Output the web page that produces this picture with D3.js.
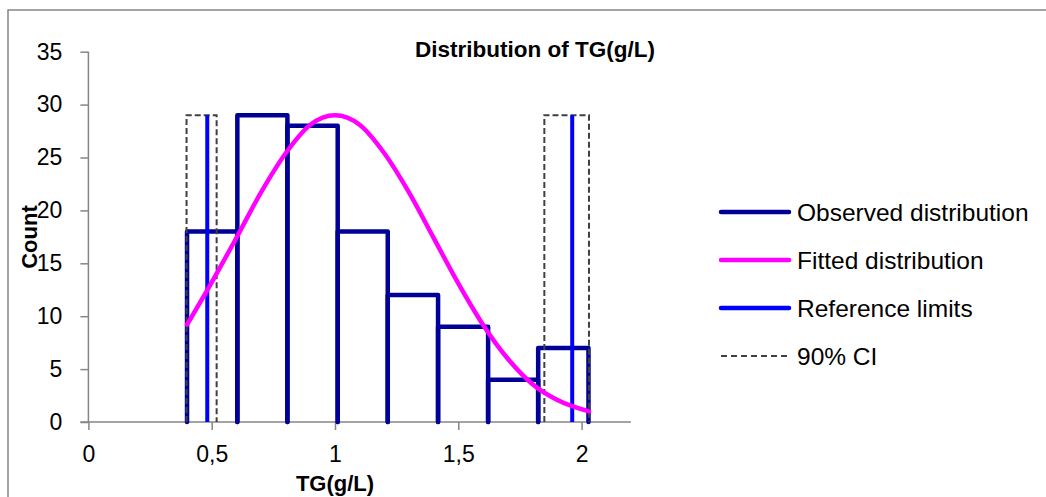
<!DOCTYPE html>
<html>
<head>
<meta charset="utf-8">
<script src="https://cdn.jsdelivr.net/npm/d3@7"></script>
<style>
  html, body { margin: 0; padding: 0; background: #fff; }
  svg { display: block; font-family: "Liberation Sans", Arial, sans-serif; }
</style>
</head>
<body>
<svg id="chart" width="1046" height="497"></svg>
<script>
// ---- data ----
const binEdges = [0.40, 0.604, 0.807, 1.011, 1.214, 1.418, 1.621, 1.824, 2.028];
const binCounts = [18, 29, 28, 18, 12, 9, 4, 7];
const fitX = [0.40, 0.50, 0.60, 0.70, 0.80, 0.90, 1.00, 1.10, 1.20, 1.30, 1.40, 1.50, 1.60, 1.70, 1.80, 1.90, 2.03];
const fitY = [9.2, 13.2, 17.4, 21.7, 25.4, 28.1, 29.0, 28.1, 25.4, 21.7, 17.4, 13.1, 9.2, 6.0, 3.6, 2.1, 1.0];
const refLimits = [0.482, 1.962];
const refHeight = 29;
const ciLow = [0.398, 0.520];
const ciHigh = [1.849, 2.030];
const xTicks = [0, 0.5, 1, 1.5, 2];
const xTickLabels = ["0", "0,5", "1", "1,5", "2"];
const yTicks = [0, 5, 10, 15, 20, 25, 30, 35];
const legendItems = ["Observed distribution", "Fitted distribution", "Reference limits", "90% CI"];
const title = "Distribution of TG(g/L)";
const xTitle = "TG(g/L)";
const yTitle = "Count";

// ---- styles ----
const cObs = "#000096", cFit = "#FF00FF", cRef = "#0000FF", cCI = "#404040", cAxis = "#868686";

const svg = d3.select("#chart");
const x = d3.scaleLinear().domain([0, 2.2]).range([88.4, 630.9]);
const y = d3.scaleLinear().domain([0, 35]).range([422, 51.7]);

// outer border
svg.append("rect").attr("x", 8).attr("y", 10).attr("width", 1100).attr("height", 600)
  .attr("fill", "none").attr("stroke", cAxis).attr("stroke-width", 1.5);

// axes
const xAxis = d3.axisBottom(x).tickValues(xTicks).tickFormat((d, i) => xTickLabels[i]).tickSize(8).tickPadding(16);
const gx = svg.append("g").attr("transform", `translate(0,${y(0)})`).call(xAxis);
const yAxis = d3.axisLeft(y).tickValues(yTicks).tickSize(8).tickPadding(18);
const gy = svg.append("g").attr("transform", `translate(${x(0)},0)`).call(yAxis);
[gx, gy].forEach(g => {
  g.select(".domain").attr("stroke", cAxis).attr("stroke-width", 1.5);
  g.selectAll(".tick line").attr("stroke", cAxis).attr("stroke-width", 1.5);
  g.selectAll(".tick text").attr("fill", "#000").style("font-size", "23px").style("font-family", '"Liberation Sans", Arial, sans-serif');
});
gx.select(".domain").attr("d", `M${x(0) - 8},0H${x(2.2)}`);
gy.select(".domain").attr("d", `M0,${y(0)}V${y(35)}`);

// histogram
const bins = binCounts.map((c, i) => ({x0: binEdges[i], x1: binEdges[i + 1], c}));
svg.append("g").selectAll("path").data(bins).join("path")
  .attr("d", d => `M${x(d.x0)},${y(0)}V${y(d.c)}H${x(d.x1)}V${y(0)}`)
  .attr("fill", "none").attr("stroke", cObs).attr("stroke-width", 4.5)
  .attr("stroke-linejoin", "round").attr("stroke-linecap", "round");

// CI boxes
svg.append("g").selectAll("path").data([ciLow, ciHigh]).join("path")
  .attr("d", d => `M${x(d[0])},${y(0)}V${y(refHeight)}H${x(d[1])}V${y(0)}`)
  .attr("fill", "none").attr("stroke", cCI).attr("stroke-width", 2).attr("stroke-dasharray", "6,3");

// reference limits
svg.append("g").selectAll("line").data(refLimits).join("line")
  .attr("x1", d => x(d)).attr("x2", d => x(d)).attr("y1", y(0)).attr("y2", y(refHeight))
  .attr("stroke", cRef).attr("stroke-width", 4);

// fitted curve
const line = d3.line().x(d => x(d[0])).y(d => y(d[1])).curve(d3.curveMonotoneX);
svg.append("path").datum(fitX.map((v, i) => [v, fitY[i]]))
  .attr("d", line).attr("fill", "none").attr("stroke", cFit).attr("stroke-width", 4.5).attr("stroke-linecap", "round");

// titles
svg.append("text").attr("x", 535).attr("y", 57).attr("text-anchor", "middle")
  .style("font-size", "22.5px").style("font-weight", "bold").text(title);
svg.append("text").attr("x", x(1)).attr("y", 491).attr("text-anchor", "middle")
  .style("font-size", "22px").style("font-weight", "bold").text(xTitle);
svg.append("text").attr("transform", "translate(37,237) rotate(-90)").attr("text-anchor", "middle")
  .style("font-size", "22px").style("font-weight", "bold").text(yTitle);

// legend
const legY = [212, 260, 308, 356];
const leg = svg.append("g").selectAll("g").data(legendItems).join("g")
  .attr("transform", (d, i) => `translate(0,${legY[i]})`);
leg.append("line").attr("x1", 721).attr("x2", 789).attr("y1", 0).attr("y2", 0)
  .attr("stroke", (d, i) => [cObs, cFit, cRef, cCI][i])
  .attr("stroke-width", (d, i) => i === 3 ? 2 : 4.5)
  .attr("stroke-linecap", (d, i) => i === 3 ? "butt" : "round")
  .attr("stroke-dasharray", (d, i) => i === 3 ? "6,4" : null);
leg.append("text").attr("x", 797).attr("y", 0).attr("dy", "0.35em")
  .style("font-size", "24.5px").text(d => d);
</script>
</body>
</html>
